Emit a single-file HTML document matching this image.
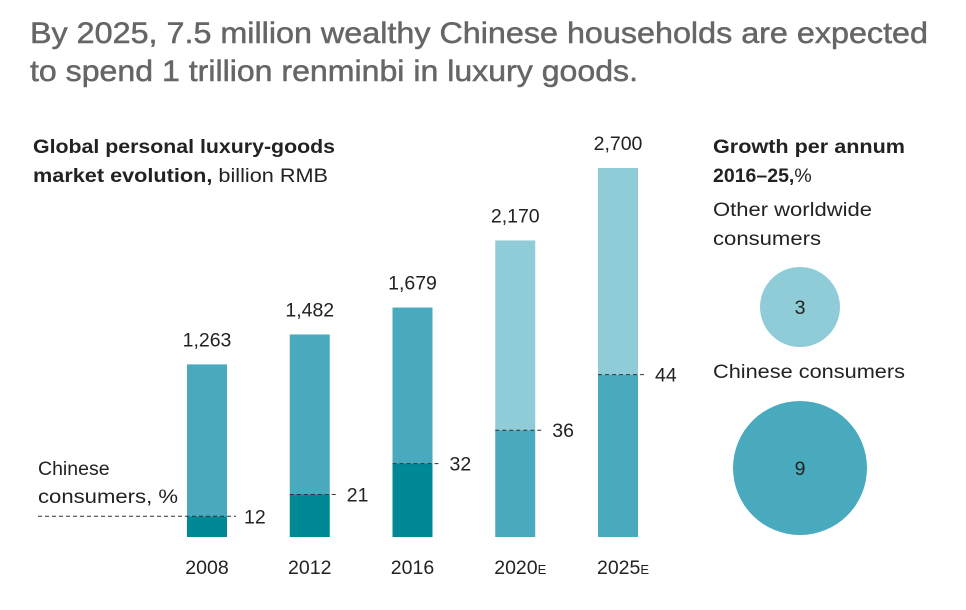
<!DOCTYPE html>
<html><head><meta charset="utf-8"><style>
body{margin:0;background:#fff;font-family:"Liberation Sans",sans-serif;}
svg text{font-family:"Liberation Sans",sans-serif;}
</style></head><body>
<svg width="966" height="605" xmlns="http://www.w3.org/2000/svg">
<text x="30" y="43" font-size="30" fill="#666" textLength="898" lengthAdjust="spacingAndGlyphs" stroke="#666" stroke-width="0.5">By 2025, 7.5 million wealthy Chinese households are expected</text>
<text x="30" y="81" font-size="30" fill="#666" textLength="608" lengthAdjust="spacingAndGlyphs" stroke="#666" stroke-width="0.5">to spend 1 trillion renminbi in luxury goods.</text>
<text x="33" y="153" font-size="19.5" font-weight="bold" fill="#222" textLength="302" lengthAdjust="spacingAndGlyphs">Global personal luxury-goods</text>
<text x="33" y="182" font-size="19.5" fill="#222" textLength="295" lengthAdjust="spacingAndGlyphs"><tspan font-weight="bold">market evolution,</tspan> billion RMB</text>
<text x="38" y="475" font-size="19.5" fill="#222">Chinese</text>
<text x="38" y="503" font-size="19.5" fill="#222" textLength="140" lengthAdjust="spacingAndGlyphs">consumers, %</text>
<g id="bars"></g>
<text x="713" y="153" font-size="19.5" font-weight="bold" fill="#222" textLength="192" lengthAdjust="spacingAndGlyphs">Growth per annum</text>
<text x="713" y="182" font-size="19.5" fill="#222"><tspan font-weight="bold">2016–25,</tspan>%</text>
<text x="713" y="216" font-size="19.5" fill="#222" textLength="159" lengthAdjust="spacingAndGlyphs">Other worldwide</text>
<text x="713" y="245" font-size="19.5" fill="#222" textLength="108" lengthAdjust="spacingAndGlyphs">consumers</text>
<circle cx="800" cy="307" r="40" fill="#90ccd8"/>
<text x="800" y="314" font-size="19.5" text-anchor="middle" fill="#222">3</text>
<text x="713" y="378" font-size="19.5" fill="#222" textLength="192" lengthAdjust="spacingAndGlyphs">Chinese consumers</text>
<circle cx="800" cy="468" r="67" fill="#4aaabd"/>
<text x="800" y="475" font-size="19.5" text-anchor="middle" fill="#222">9</text>
</svg>
<script>
const years=['2008','2012','2016','2020','2025'];
const estimated=[false,false,false,true,true];
const totals=[1263,1482,1679,2170,2700];
const totalLabels=['1,263','1,482','1,679','2,170','2,700'];
const chineseShare=[12,21,32,36,44];
const base=537,scale=369/2700,x0=187,step=102.75,bw=40;
const y=v=>base-v*scale;
const g=document.getElementById('bars');
const NS='http://www.w3.org/2000/svg';
function mk(t,a){const e=document.createElementNS(NS,t);for(const k in a)e.setAttribute(k,a[k]);g.appendChild(e);return e;}
years.forEach((yr,i)=>{
  const x=x0+i*step, top=y(totals[i]), split=y(totals[i]*chineseShare[i]/100);
  const upC=estimated[i]?'#90ccd8':'#4aaabd', loC=estimated[i]?'#4aaabd':'#008896';
  const r1=mk('rect',{x:x,y:top,width:bw,height:split-top,fill:upC});
  
  
  const r2=mk('rect',{x:x,y:split,width:bw,height:base-split,fill:loC});
  
  
  const l=mk('line',{x1:i==0?38:x,x2:x+bw+9,y1:split,y2:split,stroke:'#333','stroke-width':1,'stroke-dasharray':'4,3'});
  
  
  const st=mk('text',{x:x+bw+17,y:split+7,'font-size':19.5,fill:'#222'});st.textContent=chineseShare[i];
  
  
  const tt=mk('text',{x:x+bw/2,y:top-18,'font-size':19.5,'text-anchor':'middle',fill:'#222'});tt.textContent=totalLabels[i];
  
  
  const yl=mk('text',{x:x+bw/2+(estimated[i]?5:0),y:574,'font-size':19.5,'text-anchor':'middle',fill:'#222'});
  yl.textContent=yr;
  if(estimated[i]){const s=document.createElementNS(NS,'tspan');s.setAttribute('font-size','13');s.textContent='E';yl.appendChild(s);}
  
  
});
</script>
</body></html>
